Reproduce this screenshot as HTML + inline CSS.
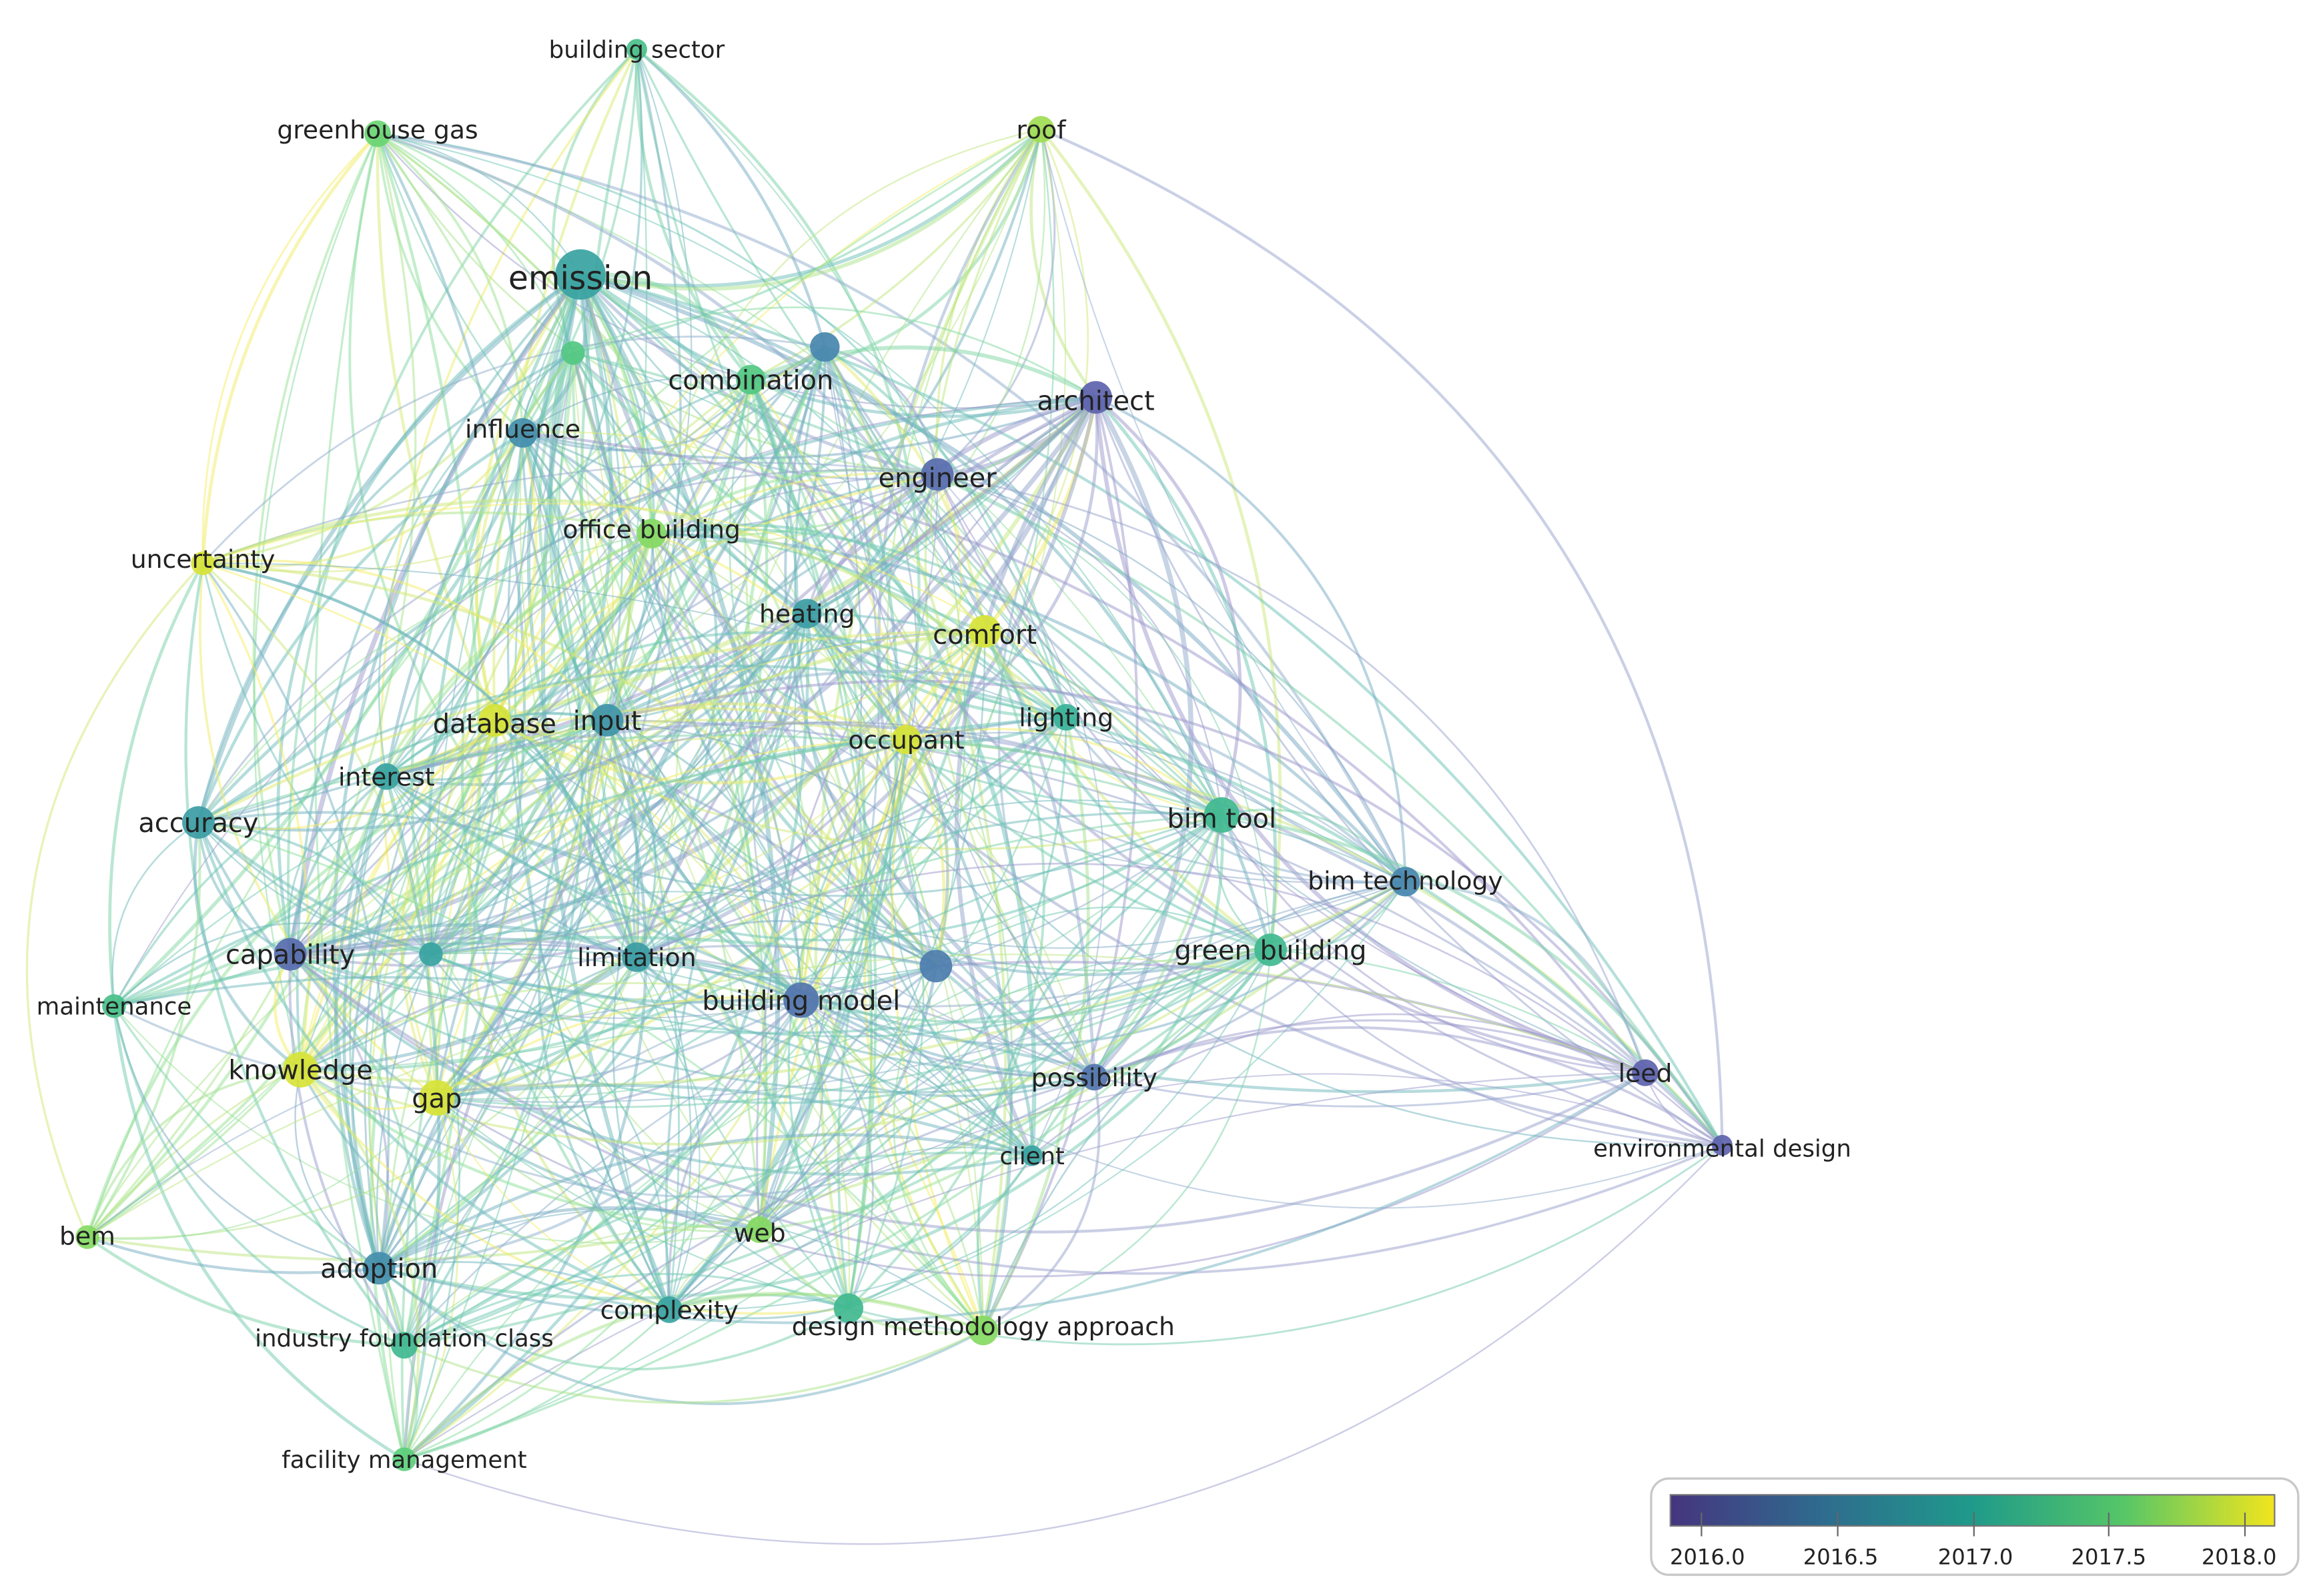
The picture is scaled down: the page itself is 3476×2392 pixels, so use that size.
<!DOCTYPE html>
<html><head><meta charset="utf-8">
<style>
html,body{margin:0;padding:0;background:#fff;}
svg{display:block;}
text{font-family:"DejaVu Sans","Liberation Sans",sans-serif;fill:#222;}
</style></head>
<body>
<svg id="s" width="3476" height="2392" viewBox="0 0 1566 1077" xmlns="http://www.w3.org/2000/svg">
<defs>
<linearGradient id="vg" x1="0" x2="1" y1="0" y2="0">
<stop offset="0" stop-color="#45357f"/>
<stop offset="0.25" stop-color="#2f6b8e"/>
<stop offset="0.5" stop-color="#1f9a8a"/>
<stop offset="0.75" stop-color="#56c667"/>
<stop offset="1" stop-color="#f2e51d"/>
</linearGradient>
</defs>
<g id="edges" fill="none"></g>
<g id="nodes"></g>
<g id="labels"></g>
<g id="legend">
<rect x="1115" y="998" width="437" height="65" rx="12" fill="#fff" stroke="#c8c8c8" stroke-width="1.5"/>
<rect x="1128" y="1009" width="408" height="21" fill="url(#vg)" stroke="#777" stroke-width="1"/>
<g stroke="#666" stroke-width="1">
<line x1="1149" y1="1021" x2="1149" y2="1037"/>
<line x1="1241" y1="1021" x2="1241" y2="1037"/>
<line x1="1333" y1="1021" x2="1333" y2="1037"/>
<line x1="1424" y1="1021" x2="1424" y2="1037"/>
<line x1="1516" y1="1021" x2="1516" y2="1037"/>
</g>
<g font-size="14.5" text-anchor="middle">
<text x="1153" y="1056">2016.0</text>
<text x="1243" y="1056">2016.5</text>
<text x="1334" y="1056">2017.0</text>
<text x="1424" y="1056">2017.5</text>
<text x="1512" y="1056">2018.0</text>
</g>
</g>
</svg>
<script>
var N=[
["building sector",430,33,7,2017.3,16,0,0],
["greenhouse gas",255,90,9,2017.6,17,-3,0],
["roof",703,87,9,2017.8,17,0,0],
["emission",392,185,17,2016.9,22,2,0],
["",387,238,8,2017.4,0,0,0],
["",557,234,10,2016.5,0,0,0],
["combination",507,256,10,2017.4,18,0,0],
["architect",740,268,11,2016.1,18,2,0],
["influence",353,292,10,2016.6,17,-3,0],
["engineer",633,320,11,2016.2,18,2,0],
["office building",440,360,10,2017.7,17,-3,0],
["uncertainty",137,380,8,2018.0,17,-3,0],
["heating",545,414,10,2016.8,17,0,0],
["comfort",665,426,11,2018.0,18,2,0],
["database",334,486,11,2018.0,18,2,0],
["input",410,486,11,2016.7,18,0,0],
["occupant",612,499,10,2018.0,17,0,0],
["lighting",720,484,9,2017.1,17,0,0],
["interest",261,524,9,2016.9,17,0,0],
["accuracy",134,555,11,2016.8,18,0,0],
["bim tool",825,550,12,2017.2,18,2,0],
["bim technology",949,595,10,2016.5,17,-1,0],
["capability",196,644,11,2016.2,18,0,0],
["",291,644,8,2016.9,0,0,0],
["limitation",430,646,10,2016.8,17,0,0],
["",632,652,11,2016.4,0,0,0],
["green building",858,641,11,2017.2,18,0,0],
["building model",541,675,12,2016.3,18,0,0],
["maintenance",77,679,8,2017.3,16,0,0],
["knowledge",203,722,12,2018.0,18,0,0],
["gap",295,741,12,2018.0,18,0,0],
["possibility",739,727,9,2016.3,17,0,0],
["leed",1111,724,9,2016.1,17,0,0],
["environmental design",1163,773,7,2016.1,16,2,0],
["client",697,780,7,2016.9,16,0,0],
["bem",59,835,8,2017.7,17,-1,0],
["web",513,830,9,2017.7,17,2,0],
["adoption",256,856,11,2016.6,18,0,0],
["complexity",452,884,9,2016.9,17,0,0],
["",573,883,10,2017.2,0,0,0],
["design methodology approach",664,898,10,2017.7,17,-3,0],
["industry foundation class",273,908,9,2017.2,16,-5,0],
["facility management",273,985,8,2017.5,16,0,0]
];
var stops=[[90,80,170],[60,130,170],[40,170,150],[90,210,110],[242,229,29]];
function col(y){var t=Math.max(0,Math.min(1,(y-2016)/2.1))*4;var i=Math.min(3,Math.floor(t)),f=t-i;var a=stops[i],b=stops[i+1];
return [a[0]+(b[0]-a[0])*f,a[1]+(b[1]-a[1])*f,a[2]+(b[2]-a[2])*f];}
function rgb(c,l){l=l||0;return "rgb("+c.map(function(v){return Math.round(v+(255-v)*l)}).join(",")+")";}
var seed=12345;function rnd(){seed=(seed*1103515245+12345)%2147483648;return seed/2147483648;}
var E=document.getElementById("edges"),G=document.getElementById("nodes"),L=document.getElementById("labels");
var out="";
for(var i=0;i<N.length;i++)for(var j=i+1;j<N.length;j++){
 var a=N[i],b=N[j];var dx=b[1]-a[1],dy=b[2]-a[2],d=Math.sqrt(dx*dx+dy*dy);
 var p=0.55*(a[3]+b[3])/20; if(d>700)p*=0.6;
 if(a[4]<2016.3&&b[4]<2016.3)p=0.9;
 var reps=rnd()<p?1:0; if(rnd()<p*0.4)reps++;
 for(var k=0;k<reps;k++){
  var s=(rnd()<0.5?-1:1)*(0.1+rnd()*0.25);
  var cx=(a[1]+b[1])/2-dy*s,cy=(a[2]+b[2])/2+dx*s;
  var yy=(rnd()<0.5?a[4]:b[4])+(rnd()-0.5)*0.3;
  var c=col(yy);
  var w=0.9+rnd()*1.3;
  if((a[0]=="emission"||b[0]=="emission"||a[0]=="architect"||b[0]=="architect")&&rnd()<0.5)w+=1.2;
  var lt=yy<2016.5?0.4:0.3;
  out+='<path d="M'+a[1]+' '+a[2]+'Q'+cx.toFixed(1)+' '+cy.toFixed(1)+' '+b[1]+' '+b[2]+'" stroke="'+rgb(c,lt)+'" stroke-width="'+w.toFixed(2)+'" stroke-opacity="0.5"/>';
 }
}
E.innerHTML=out;
var gn="",gl="";
N.forEach(function(n){var c=col(n[4]);
 gn+='<circle cx="'+n[1]+'" cy="'+n[2]+'" r="'+n[3]+'" fill="'+rgb(c,0.05)+'" fill-opacity="0.92"/>';
 if(n[0])gl+='<text x="'+n[1]+'" y="'+(n[2]+n[5]*0.36+n[6])+'" font-size="'+n[5]+'" text-anchor="middle">'+n[0]+'</text>';
});
G.innerHTML=gn;L.innerHTML=gl;
</script>
</body></html>
